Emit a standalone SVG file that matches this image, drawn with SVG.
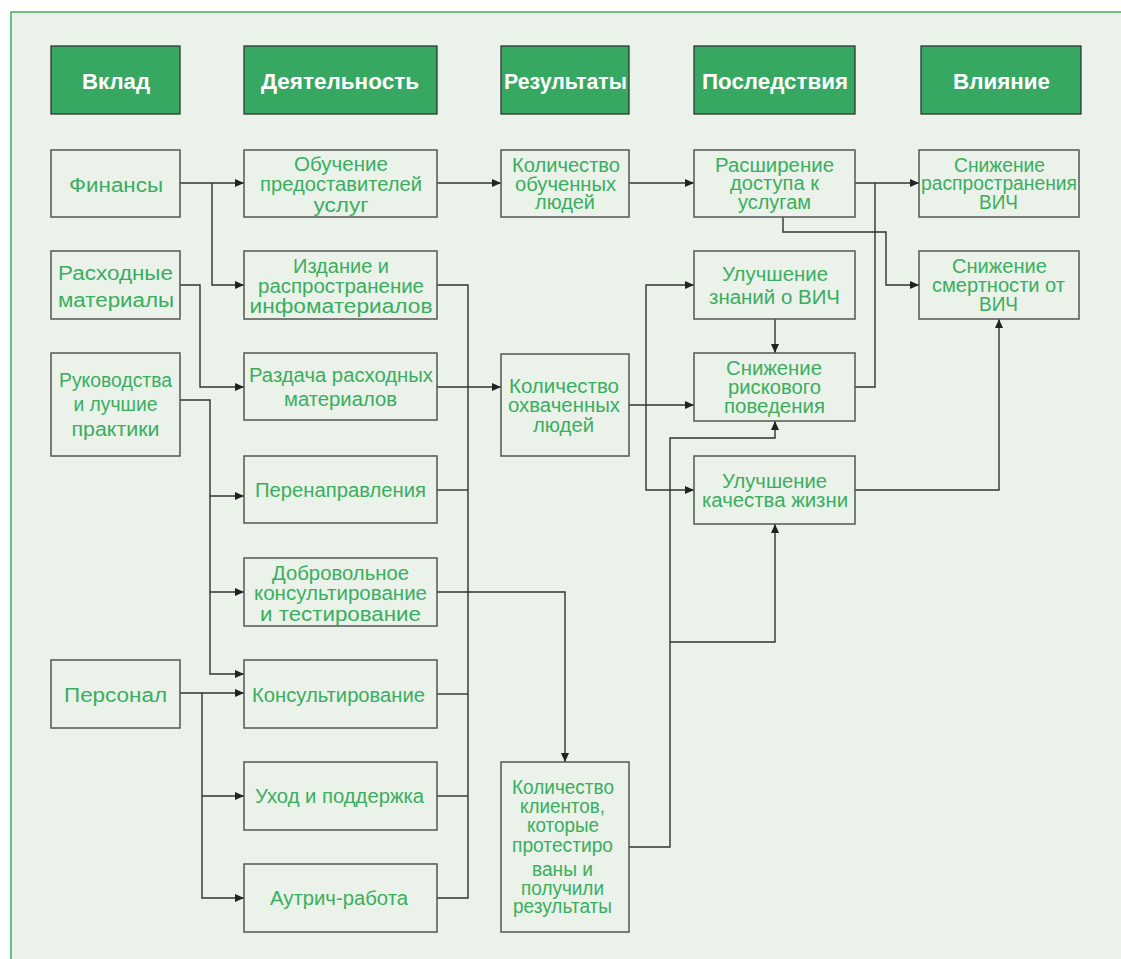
<svg xmlns="http://www.w3.org/2000/svg" width="1121" height="959" viewBox="0 0 1121 959">
<defs>
<marker id="ah" markerUnits="userSpaceOnUse" markerWidth="9" markerHeight="8" refX="9" refY="4" orient="auto"><path d="M0,0 L9,4 L0,8 z" fill="#222"/></marker>
<style>
.hdr rect{fill:#37A862;stroke:#333;stroke-width:1.3}
.hdr text{fill:#fff;font-family:"Liberation Sans",Arial,sans-serif;font-weight:bold;font-size:22px;text-anchor:middle}
.box rect{fill:#EAF2EA;stroke:#555;stroke-width:1.5}
.box text{fill:#3AAE5E;font-family:"Liberation Sans",Arial,sans-serif;font-size:20px;text-anchor:middle}
#connectors path{fill:none;stroke:#333;stroke-width:1.4}
#connectors path.a{marker-end:url(#ah)}
</style>
</defs>
<rect x="0" y="0" width="1121" height="959" fill="#fff"/>
<rect x="11" y="12" width="1125" height="960" fill="#EAF2EA" stroke="#3DB060" stroke-width="1.5"/>

<g id="h-vklad" class="hdr"><rect x="51" y="46" width="129" height="68"/><text x="116" y="89" textLength="68" lengthAdjust="spacingAndGlyphs">Вклад</text></g>
<g id="h-deyat" class="hdr"><rect x="244" y="46" width="193" height="68"/><text x="340" y="89" textLength="158" lengthAdjust="spacingAndGlyphs">Деятельность</text></g>
<g id="h-rez" class="hdr"><rect x="501" y="46" width="128" height="68"/><text x="565.5" y="89" textLength="123" lengthAdjust="spacingAndGlyphs">Результаты</text></g>
<g id="h-posl" class="hdr"><rect x="694" y="46" width="161" height="68"/><text x="775" y="89" textLength="146" lengthAdjust="spacingAndGlyphs">Последствия</text></g>
<g id="h-vliyan" class="hdr"><rect x="921" y="46" width="160" height="68"/><text x="1001.5" y="89" textLength="97" lengthAdjust="spacingAndGlyphs">Влияние</text></g>

<g id="connectors">
<path class="a" d="M180,183 H244"/>
<path class="a" d="M212,183 V285 H244"/>
<path class="a" d="M180,285 H200 V387 H244"/>
<path class="a" d="M180,400 H210 V674 H244"/>
<path class="a" d="M210,496 H244"/>
<path class="a" d="M210,592 H244"/>
<path class="a" d="M180,693 H244"/>
<path class="a" d="M202,693 V898 H244"/>
<path class="a" d="M202,796 H244"/>
<path d="M437,285 H468 V898 H437"/>
<path d="M437,490 H468"/>
<path d="M437,694 H468"/>
<path d="M437,796 H468"/>
<path class="a" d="M437,387 H501"/>
<path class="a" d="M437,592 H565 V762"/>
<path class="a" d="M437,183 H501"/>
<path class="a" d="M629,183 H694"/>
<path class="a" d="M855,183 H919"/>
<path d="M855,387 H875 V183"/>
<path class="a" d="M783,217 V232 H886 V285 H919"/>
<path class="a" d="M629,405 H694"/>
<path class="a" d="M646,405 V285 H694"/>
<path class="a" d="M646,405 V490 H694"/>
<path class="a" d="M775,319 V353"/>
<path class="a" d="M629,847 H670 V438 H775 V421"/>
<path class="a" d="M670,642 H775 V524"/>
<path class="a" d="M855,490 H999 V319"/>
</g>

<g id="n-finansy" class="box"><rect x="51" y="150" width="129" height="67"/><text x="116" y="192" font-size="21" textLength="94" lengthAdjust="spacingAndGlyphs">Финансы</text></g>
<g id="n-rashod" class="box"><rect x="51" y="251" width="129" height="68"/><text x="115.5" y="280" font-size="21" textLength="115" lengthAdjust="spacingAndGlyphs">Расходные</text><text x="116" y="307" font-size="21" textLength="116" lengthAdjust="spacingAndGlyphs">материалы</text></g>
<g id="n-rukov" class="box"><rect x="51" y="353" width="129" height="103"/><text x="115.5" y="387" textLength="113" lengthAdjust="spacingAndGlyphs">Руководства</text><text x="115.5" y="411" textLength="84" lengthAdjust="spacingAndGlyphs">и лучшие</text><text x="115.5" y="436" textLength="88" lengthAdjust="spacingAndGlyphs">практики</text></g>
<g id="n-personal" class="box"><rect x="51" y="660" width="129" height="68"/><text x="115.5" y="702" font-size="21" textLength="103" lengthAdjust="spacingAndGlyphs">Персонал</text></g>

<g id="n-obuch" class="box"><rect x="244" y="150" width="193" height="67"/><text x="341" y="171" textLength="94" lengthAdjust="spacingAndGlyphs">Обучение</text><text x="341" y="191" textLength="162" lengthAdjust="spacingAndGlyphs">предоставителей</text><text x="341" y="212" textLength="55" lengthAdjust="spacingAndGlyphs">услуг</text></g>
<g id="n-izdan" class="box"><rect x="244" y="251" width="193" height="68"/><text x="341" y="273" textLength="96" lengthAdjust="spacingAndGlyphs">Издание и</text><text x="341" y="293" textLength="166" lengthAdjust="spacingAndGlyphs">распространение</text><text x="341" y="313" font-size="22" textLength="183" lengthAdjust="spacingAndGlyphs">инфоматериалов</text></g>
<g id="n-razdacha" class="box"><rect x="244" y="353" width="193" height="67"/><text x="341" y="382" textLength="184" lengthAdjust="spacingAndGlyphs">Раздача расходных</text><text x="340.5" y="406" textLength="113" lengthAdjust="spacingAndGlyphs">материалов</text></g>
<g id="n-perenapr" class="box"><rect x="244" y="456" width="193" height="67"/><text x="340.5" y="497" textLength="171" lengthAdjust="spacingAndGlyphs">Перенаправления</text></g>
<g id="n-dobrov" class="box"><rect x="244" y="558" width="193" height="68"/><text x="340.5" y="580" textLength="137" lengthAdjust="spacingAndGlyphs">Добровольное</text><text x="340.5" y="600" textLength="173" lengthAdjust="spacingAndGlyphs">консультирование</text><text x="340.5" y="621" font-size="22" textLength="161" lengthAdjust="spacingAndGlyphs">и тестирование</text></g>
<g id="n-konsult" class="box"><rect x="244" y="660" width="193" height="68"/><text x="338.5" y="702" textLength="173" lengthAdjust="spacingAndGlyphs">Консультирование</text></g>
<g id="n-uhod" class="box"><rect x="244" y="762" width="193" height="68"/><text x="339.5" y="803" textLength="169" lengthAdjust="spacingAndGlyphs">Уход и поддержка</text></g>
<g id="n-autrich" class="box"><rect x="244" y="864" width="193" height="68"/><text x="339" y="905" textLength="138" lengthAdjust="spacingAndGlyphs">Аутрич-работа</text></g>

<g id="n-kol-obuch" class="box"><rect x="501" y="150" width="128" height="67"/><text x="566" y="172" textLength="108" lengthAdjust="spacingAndGlyphs">Количество</text><text x="565.5" y="191" textLength="101" lengthAdjust="spacingAndGlyphs">обученных</text><text x="565" y="209" textLength="60" lengthAdjust="spacingAndGlyphs">людей</text></g>
<g id="n-kol-ohv" class="box"><rect x="501" y="354" width="128" height="102"/><text x="564" y="393" textLength="110" lengthAdjust="spacingAndGlyphs">Количество</text><text x="564" y="412" textLength="112" lengthAdjust="spacingAndGlyphs">охваченных</text><text x="563.5" y="432" textLength="61" lengthAdjust="spacingAndGlyphs">людей</text></g>
<g id="n-kol-klient" class="box"><rect x="501" y="762" width="128" height="170"/><text x="563" y="794" textLength="102" lengthAdjust="spacingAndGlyphs">Количество</text><text x="562.5" y="813" textLength="85" lengthAdjust="spacingAndGlyphs">клиентов,</text><text x="563" y="832" textLength="72" lengthAdjust="spacingAndGlyphs">которые</text><text x="562.5" y="852" textLength="101" lengthAdjust="spacingAndGlyphs">протестиро</text><text x="562.5" y="876" textLength="61" lengthAdjust="spacingAndGlyphs">ваны и</text><text x="562.5" y="895" textLength="83" lengthAdjust="spacingAndGlyphs">получили</text><text x="562.5" y="913" textLength="99" lengthAdjust="spacingAndGlyphs">результаты</text></g>

<g id="n-rasshir" class="box"><rect x="694" y="150" width="161" height="67"/><text x="774.5" y="172" textLength="119" lengthAdjust="spacingAndGlyphs">Расширение</text><text x="774.5" y="190" textLength="89" lengthAdjust="spacingAndGlyphs">доступа к</text><text x="774.5" y="209" textLength="73" lengthAdjust="spacingAndGlyphs">услугам</text></g>
<g id="n-znaniy" class="box"><rect x="694" y="251" width="161" height="68"/><text x="775" y="281" textLength="106" lengthAdjust="spacingAndGlyphs">Улучшение</text><text x="774.5" y="304" textLength="131" lengthAdjust="spacingAndGlyphs">знаний о ВИЧ</text></g>
<g id="n-risk" class="box"><rect x="694" y="353" width="161" height="68"/><text x="774" y="375" textLength="96" lengthAdjust="spacingAndGlyphs">Снижение</text><text x="774.5" y="394" textLength="93" lengthAdjust="spacingAndGlyphs">рискового</text><text x="774.5" y="413" textLength="101" lengthAdjust="spacingAndGlyphs">поведения</text></g>
<g id="n-kachestvo" class="box"><rect x="694" y="456" width="161" height="68"/><text x="774.5" y="488" textLength="105" lengthAdjust="spacingAndGlyphs">Улучшение</text><text x="775" y="507" textLength="146" lengthAdjust="spacingAndGlyphs">качества жизни</text></g>

<g id="n-rasprostr" class="box"><rect x="919" y="150" width="160" height="67"/><text x="999.5" y="172" textLength="91" lengthAdjust="spacingAndGlyphs">Снижение</text><text x="999" y="190" textLength="156" lengthAdjust="spacingAndGlyphs">распространения</text><text x="998.5" y="209" textLength="39" lengthAdjust="spacingAndGlyphs">ВИЧ</text></g>
<g id="n-smert" class="box"><rect x="919" y="251" width="160" height="68"/><text x="999.5" y="273" textLength="95" lengthAdjust="spacingAndGlyphs">Снижение</text><text x="998.5" y="292" textLength="133" lengthAdjust="spacingAndGlyphs">смертности от</text><text x="998.5" y="311" textLength="39" lengthAdjust="spacingAndGlyphs">ВИЧ</text></g>
</svg>
